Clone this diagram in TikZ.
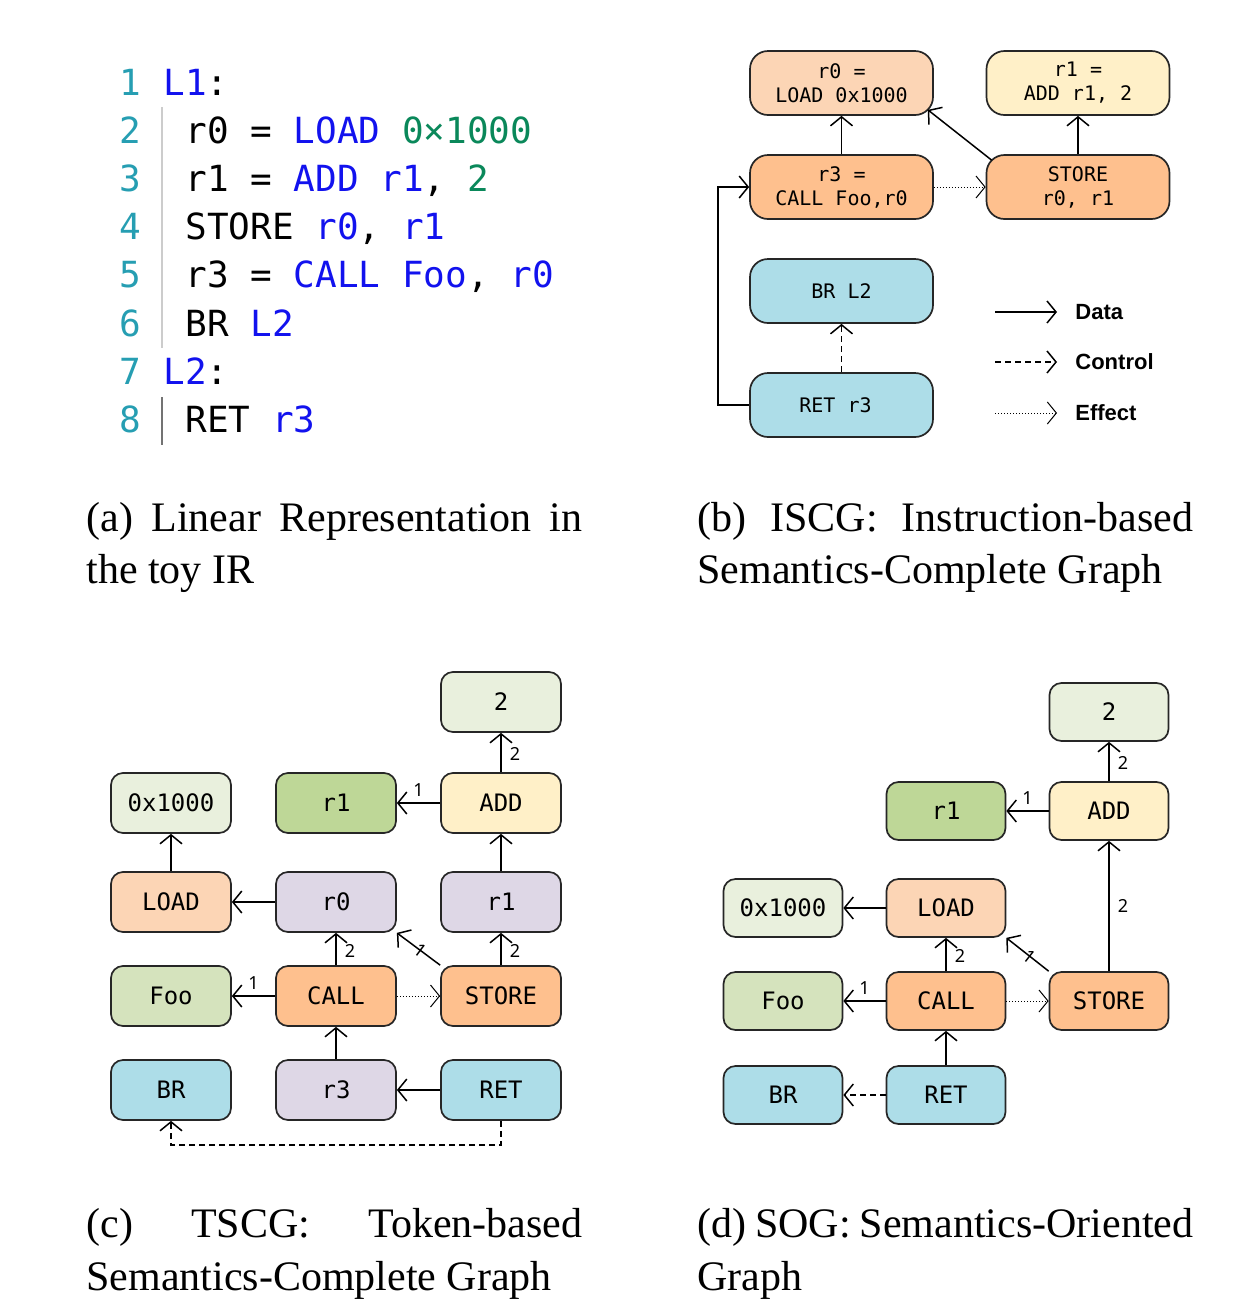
\documentclass[tikz,border=0pt]{standalone}
\usepackage{fontspec}
\setmainfont{Liberation Serif}
\setmonofont{DejaVu Sans Mono}
\newfontfamily\legendfont{Liberation Sans}
\newfontfamily\labelfont{Noto Sans}
\usetikzlibrary{arrows.meta,positioning}

\definecolor{numteal}{RGB}{38,158,178}
\definecolor{kwblue}{RGB}{18,18,238}
\definecolor{litgreen}{RGB}{10,136,90}
\definecolor{loadfill}{RGB}{252,213,181}
\definecolor{addfill}{RGB}{255,240,200}
\definecolor{opfill}{RGB}{254,192,142}
\definecolor{ctrlfill}{RGB}{173,221,232}
\definecolor{regfill}{RGB}{222,215,230}
\definecolor{varfill}{RGB}{190,215,151}
\definecolor{funcfill}{RGB}{213,227,189}
\definecolor{constfill}{RGB}{233,240,221}

\newcommand{\kwd}[1]{\textcolor{kwblue}{#1}}
\newcommand{\litv}[1]{\textcolor{litgreen}{#1}}

\tikzset{
  opbox/.style={draw=black!85, line width=0.85pt, rounded corners=6pt, inner sep=0pt,
    minimum width=60pt, minimum height=30pt, font=\ttfamily\fontsize{12}{14}\selectfont},
  instbox/.style={opbox, minimum width=91.5pt, minimum height=32pt, rounded corners=9pt,
    align=center, font=\ttfamily\fontsize{10}{12}\selectfont},
  sogbox/.style={opbox, minimum width=59.5pt, minimum height=29pt},
  data/.style={-{Straight Barb[length=4.5pt,width=11pt]}, line width=0.75pt},
  ctrl/.style={data, dash pattern=on 3pt off 2pt},
  effect/.style={-{Straight Barb[length=4.5pt,width=11pt,line width=0.5pt]}, line width=0.45pt,
    dash pattern=on 0.5pt off 1pt},
  elab/.style={font=\labelfont\fontsize{9}{10}\selectfont, inner sep=2pt},
  legtext/.style={anchor=west, inner sep=0pt, font=\legendfont\bfseries\fontsize{11}{13}\selectfont},
  capline/.style={anchor=base west, inner sep=0pt, font=\fontsize{21}{26}\selectfont},
  codeline/.style={anchor=base west, inner sep=0pt, font=\ttfamily\fontsize{18}{22}\selectfont}
}

\begin{document}
\begin{tikzpicture}[x=0.5pt, y=-0.5pt]
\useasboundingbox (0,0) rectangle (1246,1308);

% (a) Linear code
\foreach \n/\x/\code [evaluate=\n as \y using 95+(\n-1)*48.2] in {
    1/163/{\kwd{L1}:},
    2/185/{r0 = \kwd{LOAD} \litv{0×1000}},
    3/185/{r1 = \kwd{ADD r1}, \litv{2}},
    4/185/{STORE \kwd{r0}, \kwd{r1}},
    5/185/{r3 = \kwd{CALL Foo}, \kwd{r0}},
    6/185/{BR \kwd{L2}},
    7/163/{\kwd{L2}:},
    8/185/{RET \kwd{r3}}
} {
    \node[codeline, text=numteal] (num\n) at (119,\y) {\n};
    \node[codeline] (code\n) at (\x,\y) {\code};
}
\draw[black!20, line width=1pt] (162,107) -- (162,348);
\draw[black!55, line width=1pt] (162,397) -- (162,445);

% (b) ISCG
\foreach \name/\x/\y/\clr/\txt in {
    bload/841.5/83/loadfill/{r0 =\\LOAD 0x1000},
    badd/1078/83/addfill/{r1 =\\ADD r1, 2},
    bcall/841.5/187/opfill/{r3 =\\CALL Foo,r0},
    bstore/1078/187/opfill/{STORE\\r0, r1},
    bbr/841.5/291/ctrlfill/{BR L2},
    bret/841.5/405/ctrlfill/{RET r3}
} {
    \node[instbox, fill=\clr] (\name) at (\x,\y) {\txt};
}
\draw[data] (bcall) -- (bload);
\draw[data] ([xshift=3pt,yshift=-3pt]bstore.north west) -- ([xshift=-3pt,yshift=3pt]bload.south east);
\draw[data] (bstore) -- (badd);
\draw[effect] (bcall) -- (bstore);
\draw[ctrl] (bret) -- (bbr);
\draw[data] (bret.west) -- ++(-31,0) |- (bcall.west);

% legend
\foreach \kind/\y/\txt in {data/312/Data, ctrl/362/Control, effect/413/Effect} {
    \coordinate (\kind s) at (995,\y);
    \coordinate (\kind e) at (1057,\y);
    \draw[\kind] (\kind s) -- (\kind e);
    \node[legtext] (\kind lab) at (1075,\y) {\txt};
}

% (c) TSCG
\foreach \name/\x/\y/\clr/\txt in {
    ctwo/501/702/constfill/2,
    caddr/171/803/constfill/0x1000,
    cr1/336/803/varfill/r1,
    cadd/501/803/addfill/ADD,
    cload/171/902/loadfill/LOAD,
    cr0/336/902/regfill/r0,
    cr1v/501/902/regfill/r1,
    cfoo/171/996/funcfill/Foo,
    ccall/336/996/opfill/CALL,
    cstore/501/996/opfill/STORE,
    cbr/171/1090/ctrlfill/BR,
    cr3/336/1090/regfill/r3,
    cret/501/1090/ctrlfill/RET
} {
    \node[opbox, fill=\clr] (\name) at (\x,\y) {\txt};
}
\draw[data] (cadd) -- node[elab, right=2pt, pos=0.45] {2} (ctwo);
\draw[data] (cadd) -- node[elab, above=1pt] {1} (cr1);
\draw[data] (cload) -- (caddr);
\draw[data] (cr0) -- (cload);
\draw[data] (cr1v) -- (cadd);
\draw[data] (ccall) -- node[elab, right=2pt, pos=0.45] {2} (cr0);
\draw[data] (cstore.north west) -- node[elab, sloped, pos=0.45] {1} (cr0.south east);
\draw[data] (cstore) -- node[elab, right=2pt, pos=0.45] {2} (cr1v);
\draw[data] (ccall) -- node[elab, above=1pt] {1} (cfoo);
\draw[effect] (ccall) -- (cstore);
\draw[data] (cr3) -- (ccall);
\draw[data] (cret) -- (cr3);
\draw[ctrl] (cret.south) -- ++(0,24) -| (cbr.south);

% (d) SOG
\foreach \name/\x/\y/\clr/\txt in {
    dtwo/1109/712/constfill/2,
    dr1/946/811/varfill/r1,
    dadd/1109/811/addfill/ADD,
    daddr/783/908/constfill/0x1000,
    dload/946/908/loadfill/LOAD,
    dfoo/783/1001/funcfill/Foo,
    dcall/946/1001/opfill/CALL,
    dstore/1109/1001/opfill/STORE,
    dbr/783/1095/ctrlfill/BR,
    dret/946/1095/ctrlfill/RET
} {
    \node[sogbox, fill=\clr] (\name) at (\x,\y) {\txt};
}
\draw[data] (dadd) -- node[elab, right=2pt, pos=0.45] {2} (dtwo);
\draw[data] (dadd) -- node[elab, above=1pt] {1} (dr1);
\draw[data] (dload) -- (daddr);
\draw[data] (dcall) -- node[elab, right=2pt, pos=0.45] {2} (dload);
\draw[data] (dstore.north west) -- node[elab, sloped, pos=0.45] {1} (dload.south east);
\draw[data] (dstore) -- node[elab, right=2pt] {2} (dadd);
\draw[data] (dcall) -- node[elab, above=1pt] {1} (dfoo);
\draw[effect] (dcall) -- (dstore);
\draw[data] (dret) -- (dcall);
\draw[ctrl] (dret) -- (dbr);

% captions
\node[capline] (capa1) at (86,531) {\hbox to 248pt{(a) Linear Representation in}};
\node[capline] (capa2) at (86,583) {the toy IR};
\node[capline] (capb1) at (697,531) {\hbox to 248pt{(b) ISCG: Instruction-based}};
\node[capline] (capb2) at (697,583) {Semantics-Complete Graph};
\node[capline] (capc1) at (86,1237) {\hbox to 248pt{(c)\hfill TSCG:\hfill Token-based}};
\node[capline] (capc2) at (86,1290) {Semantics-Complete Graph};
\node[capline] (capd1) at (697,1237) {\hbox to 248pt{(d) SOG: Semantics-Oriented}};
\node[capline] (capd2) at (697,1290) {Graph};
\end{tikzpicture}
\end{document}
